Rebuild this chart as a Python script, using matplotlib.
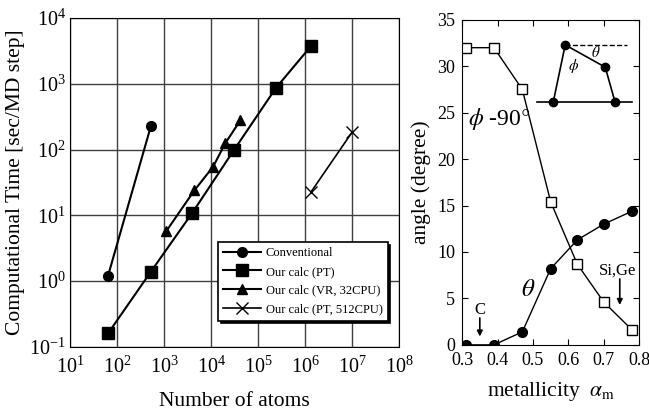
import matplotlib
matplotlib.use("Agg")
import matplotlib.pyplot as plt
import numpy as np

plt.rcParams['font.family'] = ['Liberation Serif', 'DejaVu Serif']
plt.rcParams['mathtext.fontset'] = 'stix'

# left panel data
conv_n = [64, 525]
conv_t = [1.2, 230]
pt_n = [64, 525, 4000, 31000, 240000, 1.35e6]
pt_t = [0.16, 1.4, 11, 100, 870, 3800]
vr_n = [1100, 4400, 11000, 20000, 42000]
vr_t = [5.7, 24, 55, 125, 280]
pt512_n = [1.35e6, 1.0e7]
pt512_t = [23, 185]

# right panel data
alpha = [0.31, 0.39, 0.47, 0.55, 0.625, 0.70, 0.78]
phi90 = [32, 32, 27.5, 15.4, 8.7, 4.6, 1.6]
theta = [0, 0, 1.4, 8.2, 11.3, 13.0, 14.4]

fig = plt.figure(figsize=(6.49, 4.13), dpi=100)
ax = fig.add_axes([0.108, 0.160, 0.507, 0.796])
ax.plot(conv_n, conv_t, 'k-o', ms=7, lw=1.5, label="Conventional")
ax.plot(pt_n, pt_t, 'k-s', ms=8, lw=1.5, label="Our calc (PT)")
ax.plot(vr_n, vr_t, 'k-^', ms=7, lw=1.5, label="Our calc (VR, 32CPU)")
ax.plot(pt512_n, pt512_t, 'k-x', ms=9, lw=1.2, mew=1, label="Our calc (PT, 512CPU)")
ax.set_xscale("log")
ax.set_yscale("log")
ax.set_xlim(10, 1e8)
ax.set_ylim(0.1, 1e4)
ax.set_xticks([10**i for i in range(1, 9)])
ax.set_yticks([10**i for i in range(-1, 5)])
ax.minorticks_off()
ax.grid(True, color='0.25', lw=1)
ax.tick_params(direction='in', labelsize=14.5, length=0)
ax.tick_params(axis='x', pad=7)
ax.tick_params(axis='y', pad=3)
ax.set_xlabel("Number of atoms", fontsize=15.5, labelpad=10)
ax.set_ylabel("Computational Time [sec/MD step]", fontsize=15.5, labelpad=3)
leg = ax.legend(loc='lower right', fontsize=9, fancybox=False, shadow={'color': 'k', 'alpha': 1},
                edgecolor='k', framealpha=1, handlelength=3, bbox_to_anchor=(0.965, 0.08),
                borderaxespad=0, labelspacing=0.55, handletextpad=0.4)
leg.get_frame().set_linewidth(1.2)

bx = fig.add_axes([0.712, 0.165, 0.273, 0.787])
bx.plot(alpha, phi90, 'k-s', mfc='white', ms=7, lw=1)
bx.plot(alpha, theta, 'k-o', ms=7, lw=1)
bx.set_xlim(0.3, 0.8)
bx.set_ylim(0, 35)
bx.set_xticks([0.3, 0.4, 0.5, 0.6, 0.7, 0.8])
bx.set_xticklabels(["0.3", "0.4", "0.5", "0.6", "0.7", "0.8"])
bx.set_yticks(range(0, 36, 5))
bx.tick_params(direction='in', top=True, right=True, labelsize=13, length=4, pad=5)
bx.set_xlabel(r"metallicity  $\alpha_{\rm m}$", fontsize=15.5, labelpad=8)
bx.set_ylabel("angle (degree)", fontsize=15.5)

bx.text(0.318, 23.7, r"$\phi$ -90$\degree$", fontsize=17)
bx.text(0.465, 5.3, r"$\theta$", fontsize=18)
bx.text(0.35, 3.3, "C", fontsize=12, ha='center')
bx.annotate("", xy=(0.35, 0.6), xytext=(0.35, 3.2),
            arrowprops=dict(arrowstyle='-|>', color='k', lw=1.2, mutation_scale=8))
bx.text(0.74, 7.6, "Si,Ge", fontsize=12, ha='center')
bx.annotate("", xy=(0.745, 4.0), xytext=(0.745, 7.4),
            arrowprops=dict(arrowstyle='-|>', color='k', lw=1.2, mutation_scale=8))

# inset schematic
ins_x = [0.557, 0.591, 0.704, 0.732]
ins_y = [26.1, 32.3, 29.9, 26.1]
bx.plot([0.512, 0.780], [26.1, 26.1], 'k-', lw=1.2)
bx.plot([0.591, 0.766], [32.3, 32.3], 'k--', lw=1)
bx.plot(ins_x, ins_y, 'k-o', ms=6, lw=1.2)
bx.text(0.598, 29.6, r"$\phi$", fontsize=11)
bx.text(0.665, 31.0, r"$\theta$", fontsize=11)

fig.savefig("out.png", dpi=100)
